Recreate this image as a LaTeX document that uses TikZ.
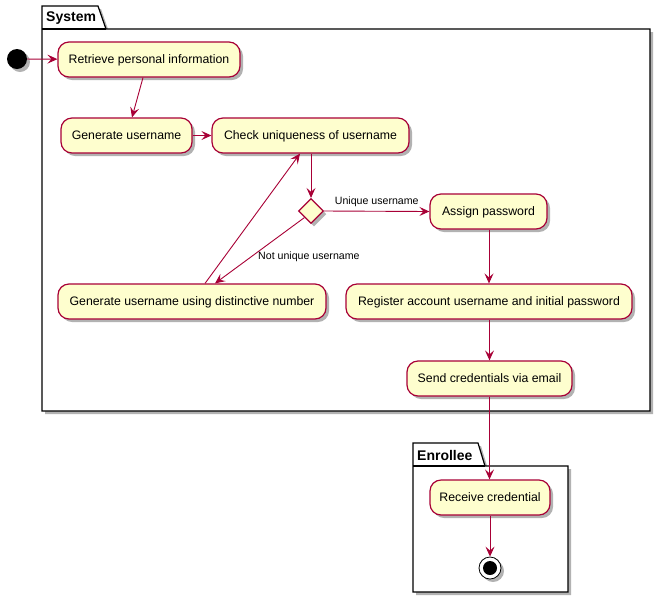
\documentclass[tikz,border=0pt]{standalone}
\usepackage{fontspec}
\setmainfont{Liberation Sans}
\usetikzlibrary{arrows.meta,shapes.geometric,shadows}
\definecolor{umlred}{HTML}{A80036}
\definecolor{umlfill}{HTML}{FEFECE}
\tikzset{
  shd/.style={drop shadow={shadow xshift=3pt,shadow yshift=-3pt,opacity=0.3,fill=black}},
  act/.style={draw=umlred,fill=umlfill,line width=1.2pt,rounded corners=11pt,minimum height=35pt,inner sep=0pt,text height=8.8pt,text depth=0pt,shd,font=\fontsize{12.3}{14}\selectfont},
  arr/.style={draw=umlred,line width=0.9pt,-{Stealth[length=10pt,width=9pt,inset=4pt]}},
  lbl/.style={font=\fontsize{10.6}{12}\selectfont,inner sep=0pt},
  pkg/.style={draw=black,line width=1.2pt,fill=white,shd},
  pkgtitle/.style={font=\fontsize{14}{16}\selectfont\bfseries,anchor=west,inner sep=0pt}
}
\begin{document}
\begin{tikzpicture}[x=1pt,y=-1pt]
\useasboundingbox (0,0) rectangle (666,598);
% packages
\path[pkg] (42,29) -- (42,6) -- (98,6) -- (106,29) -- (650,29) -- (650,411) -- (42,411) -- cycle;
\draw[black,line width=1.2pt] (42,29) -- (106,29);
\node[pkgtitle] (systitle) at (46,18) {System};
\path[pkg] (413,466) -- (413,443) -- (478,443) -- (485,466) -- (568,466) -- (568,592) -- (413,592) -- cycle;
\draw[black,line width=1.2pt] (413,466) -- (485,466);
\node[pkgtitle] (enrtitle) at (417,455) {Enrollee};
% start
\node[circle,fill=black,minimum size=20pt,inner sep=0pt,shd] (start) at (17,59) {};
% activities
\node[act,minimum width=182pt] (ret) at (149,59.5) {Retrieve personal information};
\node[act,minimum width=131pt] (gen) at (126.5,135.5) {Generate username};
\node[act,minimum width=197pt] (chk) at (310.5,135.5) {Check uniqueness of username};
\node[diamond,draw=umlred,fill=umlfill,line width=1.2pt,minimum size=25pt,inner sep=0pt,shd] (dia) at (311,211) {};
\node[act,minimum width=117pt] (asg) at (488.5,211.5) {Assign password};
\node[act,minimum width=268pt] (dist) at (192,301.5) {Generate username using distinctive number};
\node[act,minimum width=286pt] (reg) at (489,301.5) {Register account username and initial password};
\node[act,minimum width=165pt] (snd) at (489.5,378.5) {Send credentials via email};
\node[act,minimum width=120pt] (rcv) at (490,497.5) {Receive credential};
% end
\node[circle,draw=black,fill=white,line width=0.8pt,minimum size=22pt,inner sep=0pt,shd] (stop) at (490,568) {};
\node[circle,fill=black,minimum size=14pt,inner sep=0pt] (stopin) at (stop) {};
% edges
\draw[arr] (start) -- (ret);
\draw[arr] ([xshift=-6pt]ret.south) -- ([xshift=5.5pt]gen.north);
\draw[arr] (gen) -- (chk);
\draw[arr] (chk.south -| dia.north) -- (dia.north);
\draw[arr] (dia.east) -- (asg.west) node[lbl,midway,above=4pt] {Unique username};
\draw[arr] (dia.south west) -- ([xshift=23pt]dist.north);
\node[lbl,anchor=west] (nu) at (258,257) {Not unique username};
\draw[arr] ([xshift=13pt]dist.north) -- ([xshift=-10.5pt]chk.south);
\draw[arr] (asg.south -| reg.north) -- (reg.north);
\draw[arr] (reg.south -| snd.north) -- (snd.north);
\draw[arr] (snd.south) -- (snd.south |- rcv.north);
\draw[arr] (rcv.south -| stop.north) -- (stop.north);
\end{tikzpicture}
\end{document}
